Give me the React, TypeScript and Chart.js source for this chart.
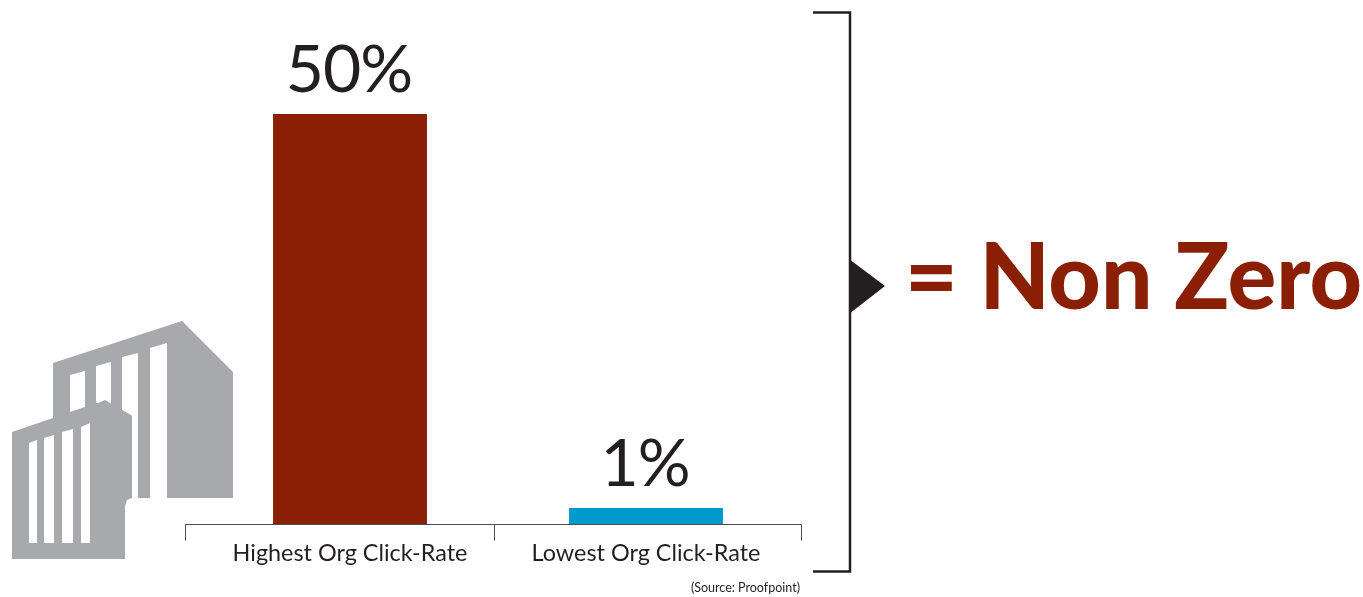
import React, { useEffect, useRef } from "react";
import { Chart, registerables } from "chart.js";

Chart.register(...registerables);

const categories = ["Highest Org Click-Rate", "Lowest Org Click-Rate"];
const clickRates = [50, 1];
const barColors = ["#8a1f03", "#0099cc"];
const verdict = "= Non Zero";
const source = "(Source: Proofpoint)";

const RED = "#8a1f03";
const INK = "#231f20";
const GREY = "#a7a9ac";

type Pt = [number, number];

function poly(ctx: CanvasRenderingContext2D, pts: Pt[], fill: string) {
  ctx.beginPath();
  pts.forEach(([x, y], i) => (i ? ctx.lineTo(x, y) : ctx.moveTo(x, y)));
  ctx.closePath();
  ctx.fillStyle = fill;
  ctx.fill();
}

// Office-block pictogram at the lower left
const backBlock: Pt[] = [[53, 363], [182, 321], [233, 372], [233, 498], [130, 498], [53, 430]];
const backWindows: Pt[][] = [
  [[70, 375], [85, 371], [85, 407], [70, 412]],
  [[96, 366], [111, 362], [111, 405], [96, 403]],
  [[122, 357], [138, 353], [138, 498], [132, 498], [132, 416], [122, 410]],
  [[150, 348], [167, 343], [167, 498], [150, 498]],
];
const frontBlock: Pt[] = [
  [12, 432], [53, 418], [96, 404], [105, 400], [110, 403], [122, 410], [132, 416],
  [132, 498], [127, 500], [125, 506], [125, 559], [12, 559],
];
const frontWindows: Pt[][] = [
  [[29, 443], [37, 440], [37, 543], [29, 543]],
  [[44, 438], [54, 435], [54, 543], [44, 543]],
  [[62, 432], [73, 429], [73, 543], [62, 543]],
  [[81, 427], [90, 423], [90, 543], [81, 543]],
];

const decorations = {
  id: "decorations",
  beforeDatasetsDraw(chart: Chart) {
    const ctx = chart.ctx;
    ctx.save();
    poly(ctx, backBlock, GREY);
    backWindows.forEach((w) => poly(ctx, w, "#ffffff"));
    poly(ctx, frontBlock, GREY);
    frontWindows.forEach((w) => poly(ctx, w, "#ffffff"));

    // Category baseline with its end and divider ticks
    const y = chart.chartArea.bottom + 0.5;
    ctx.strokeStyle = "#4d4d4f";
    ctx.lineWidth = 1;
    ctx.beginPath();
    ctx.moveTo(185, y);
    ctx.lineTo(801.5, y);
    [185.5, 494.5, 801.5].forEach((x) => {
      ctx.moveTo(x, y);
      ctx.lineTo(x, y + 16);
    });
    ctx.stroke();
    ctx.restore();
  },
  afterDatasetsDraw(chart: Chart) {
    const ctx = chart.ctx as any;
    const bars = chart.getDatasetMeta(0).data;
    ctx.save();

    // Value labels above each bar
    ctx.fillStyle = INK;
    ctx.font = "400 66px Lato";
    ctx.letterSpacing = "-1px";
    ctx.textAlign = "center";
    ctx.textBaseline = "alphabetic";
    bars.forEach((bar, i) => {
      ctx.fillText(`${clickRates[i]}%`, bar.x - 1, bar.y - 22);
    });
    ctx.letterSpacing = "0px";

    // Bracket and pointer
    ctx.strokeStyle = INK;
    ctx.lineWidth = 2.5;
    ctx.beginPath();
    ctx.moveTo(813, 12.5);
    ctx.lineTo(850, 12.5);
    ctx.lineTo(850, 571.5);
    ctx.lineTo(813, 571.5);
    ctx.stroke();
    poly(ctx, [[849, 259], [885, 286], [849, 314]], INK);

    ctx.fillStyle = RED;
    ctx.font = "900 91px Lato";
    ctx.textAlign = "left";
    ctx.fillText(verdict, 905, 309);

    ctx.fillStyle = INK;
    ctx.font = "12.5px Lato";
    ctx.textAlign = "right";
    ctx.fillText(source, 800, 592);
    ctx.restore();
  },
};

export default function App() {
  const ref = useRef<HTMLCanvasElement>(null);

  useEffect(() => {
    document.body.style.margin = "0";
    const chart = new Chart(ref.current!, {
      type: "bar",
      data: {
        labels: categories,
        datasets: [
          {
            data: clickRates,
            backgroundColor: barColors,
            barPercentage: 0.52,
            categoryPercentage: 1,
            minBarLength: 16,
          },
        ],
      },
      options: {
        responsive: false,
        animation: false,
        layout: { padding: { left: 202, right: 569, top: 114, bottom: 23 } },
        plugins: { legend: { display: false }, tooltip: { enabled: false } },
        scales: {
          x: {
            grid: { display: false },
            border: { display: false },
            afterFit: (s: any) => {
              s.height = 50;
            },
            ticks: {
              color: INK,
              font: { family: "Lato", size: 23.4, weight: 400 },
              padding: 7,
              maxRotation: 0,
              autoSkip: false,
            },
          },
          y: { display: false, min: 0, max: 50 },
        },
      },
      plugins: [decorations],
    });
    return () => chart.destroy();
  }, []);

  return <canvas ref={ref} width={1363} height={597} style={{ display: "block" }} />;
}
